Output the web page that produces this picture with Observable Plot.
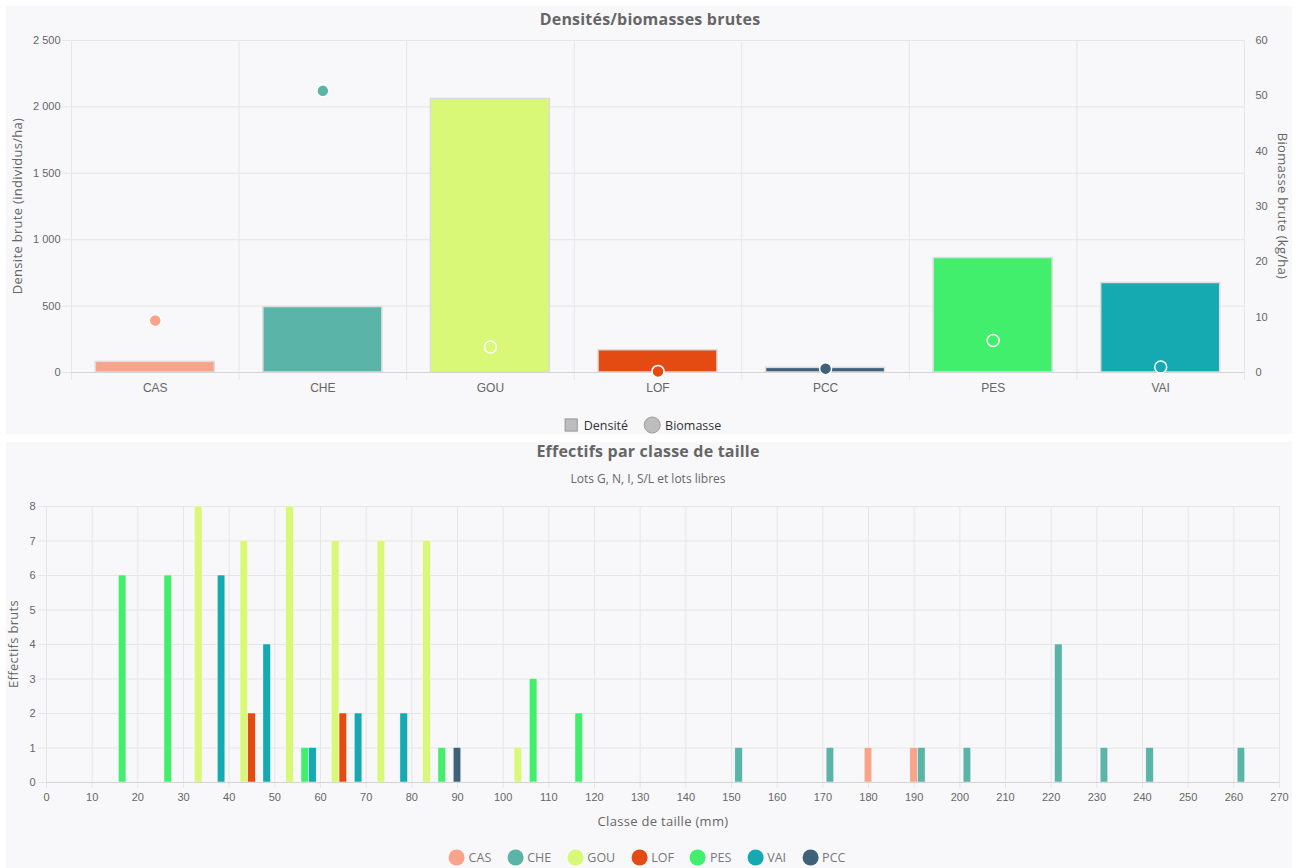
<!DOCTYPE html>
<html>
<head>
<meta charset="utf-8">
<script src="https://cdn.jsdelivr.net/npm/d3@7"></script>
<script src="https://cdn.jsdelivr.net/npm/@observablehq/plot@0.6"></script>
<style>
  body { margin: 0; background: #ffffff; font-family: "Open Sans", "Noto Sans", sans-serif; }
  #wrap { position: relative; width: 1298px; height: 868px; overflow: hidden; }
  .panel { position: absolute; left: 6px; width: 1286px; background: #f8f8fa; }
  .abs { position: absolute; white-space: nowrap; }
  .plot { position: absolute; left: 0; }
  .title { font-weight: 700; font-size: 16px; color: #666; transform: translate(-50%, -50%); letter-spacing: 0.2px; }
  .sub { font-size: 12px; color: #666; transform: translate(-50%, -50%); }
  .axtitle { font-size: 13px; color: #666; letter-spacing: 0.3px; }
  .legend { display: flex; align-items: center; transform: translate(-50%, -50%); font-size: 12.5px; }
  .legend .item { display: flex; align-items: center; margin: 0 8px; }
  .sq { width: 11px; height: 11px; background: #bdbdbd; border: 1px solid #9e9e9e; margin-right: 6px; }
  .ci { width: 16px; height: 16px; border-radius: 50%; margin-right: 4px; }
</style>
</head>
<body>
<div id="wrap">
  <div class="panel" style="top:6px;height:428px;"></div>
  <div class="panel" style="top:442px;height:426px;"></div>
</div>
<script>
// ---------- Top chart data ----------
const cats = ["CAS", "CHE", "GOU", "LOF", "PCC", "PES", "VAI"];
const densite = [80, 493, 2060, 168, 35, 862, 674];      // individus/ha
const biomasse = [9.4, 50.9, 4.6, 0.2, 0.7, 5.8, 1.0];   // kg/ha
const densiteTicks = [0, 500, 1000, 1500, 2000, 2500];
const biomasseTicks = [0, 10, 20, 30, 40, 50, 60];

// ---------- Species colours (legend order) ----------
const speciesOrder = ["CAS", "CHE", "GOU", "LOF", "PES", "VAI", "PCC"];
const speciesColors = ["#f7a48a", "#5ab5a8", "#d9f877", "#e34b12", "#41ef6c", "#15a9b1", "#40617a"];

// ---------- Bottom chart data (size class lower bound, mm) ----------
const casClasses = [180, 190];
const casCounts  = [1, 1];
const cheClasses = [150, 170, 190, 200, 220, 230, 240, 260];
const cheCounts  = [1, 1, 1, 1, 4, 1, 1, 1];
const gouClasses = [30, 40, 50, 60, 70, 80, 100];
const gouCounts  = [8, 7, 8, 7, 7, 7, 1];
const lofClasses = [40, 60];
const lofCounts  = [2, 2];
const pesClasses = [10, 20, 50, 80, 100, 110];
const pesCounts  = [6, 6, 1, 1, 3, 2];
const vaiClasses = [30, 40, 50, 60, 70];
const vaiCounts  = [6, 4, 1, 2, 2];
const pccClasses = [80];
const pccCounts  = [1];
const sizeTicks = d3.range(0, 271, 10);
const countTicks = d3.range(0, 9, 1);

const classesBySpecies = [casClasses, cheClasses, gouClasses, lofClasses, pesClasses, vaiClasses, pccClasses];
const countsBySpecies  = [casCounts, cheCounts, gouCounts, lofCounts, pesCounts, vaiCounts, pccCounts];

const wrap = document.getElementById("wrap");
const W = 1298;
const fmt = d => d3.format(",")(d).replace(/,/g, " ");
const colorScale = { type: "ordinal", domain: speciesOrder, range: speciesColors };
const tickFont = "'Liberation Sans', Arial, sans-serif";

function place(el, top) {
  el.classList.add("plot");
  el.style.top = top + "px";
  wrap.appendChild(el);
}
function addText(cls, text, x, y, extraStyle) {
  const d = document.createElement("div");
  d.className = "abs " + cls;
  d.textContent = text;
  d.style.left = x + "px";
  d.style.top = y + "px";
  if (extraStyle) Object.assign(d.style, extraStyle);
  wrap.appendChild(d);
  return d;
}

// ---------- Top chart ----------
const rows = cats.map((c, i) => ({ cat: c, i, d: densite[i], b: biomasse[i] }));

const p1 = Plot.plot({
  width: W, height: 400,
  marginTop: 40, marginBottom: 28, marginLeft: 71, marginRight: 54,
  style: { background: "transparent", fontFamily: tickFont, fontSize: "11px", color: "#666" },
  x: { type: "linear", domain: [0, cats.length] },
  y: { domain: [0, 2500] },
  color: colorScale,
  marks: [
    Plot.ruleY(densiteTicks, { stroke: "#e6e6e6" }),
    Plot.ruleX(d3.range(0, cats.length + 1), { stroke: "#e6e6e6" }),
    Plot.axisY({ ticks: densiteTicks, tickSize: 9, tickPadding: 2, stroke: "#e6e6e6", fill: "#666", tickFormat: fmt, label: null }),
    Plot.axisX({ ticks: d3.range(0, cats.length + 1), tickSize: 8, stroke: "#e6e6e6", tickFormat: () => "", label: null }),
    Plot.axisX({ ticks: d3.range(0.5, cats.length, 1), tickSize: 0, tickPadding: 11, fill: "#666", fontSize: 12,
                 tickFormat: d => cats[Math.floor(d)], label: null }),
    Plot.rect(rows, { x1: d => d.i + 0.145, x2: d => d.i + 0.855, y1: 0, y2: "d", fill: "cat", stroke: "#dcdcdc", strokeWidth: 1.5 }),
    Plot.ruleY([0], { stroke: "#d4d4d4" })
  ]
});
place(p1, 0);

const p2 = Plot.plot({
  width: W, height: 400,
  marginTop: 40, marginBottom: 28, marginLeft: 71, marginRight: 54,
  style: { background: "transparent", fontFamily: tickFont, fontSize: "11px", color: "#666" },
  x: { type: "linear", domain: [0, cats.length], axis: null },
  y: { domain: [0, 60] },
  color: colorScale,
  marks: [
    Plot.axisY({ anchor: "right", ticks: biomasseTicks, tickSize: 0, tickPadding: 11, fill: "#666", label: null }),
    Plot.dot(rows, { x: d => d.i + 0.5, y: "b", r: 6, fill: "cat", stroke: "white", strokeWidth: 1.5 })
  ]
});
place(p2, 0);

addText("title", "Densités/biomasses brutes", 650, 19);
addText("axtitle", "Densite brute (individus/ha)", 17, 206, { transform: "translate(-50%,-50%) rotate(-90deg)" });
addText("axtitle", "Biomasse brute (kg/ha)", 1283, 206, { transform: "translate(-50%,-50%) rotate(90deg)" });

const lg1 = document.createElement("div");
lg1.className = "abs legend";
lg1.style.left = "643px"; lg1.style.top = "425px"; lg1.style.color = "#333";
lg1.innerHTML = '<div class="item"><div class="sq"></div>Densité</div>' +
                '<div class="item"><div class="ci" style="background:#bdbdbd;border:1px solid #9e9e9e;width:15px;height:15px"></div>Biomasse</div>';
wrap.appendChild(lg1);

// ---------- Bottom chart ----------
const bottomRows = [];
speciesOrder.forEach((sp, si) => {
  classesBySpecies[si].forEach((c, j) => {
    bottomRows.push({ sp, si, cls: c, n: countsBySpecies[si][j] });
  });
});
const slot = 10 / 6;       // grouped-column slot width inside a 10 mm class
const half = slot / 2;

const p3 = Plot.plot({
  width: W, height: 350,
  marginTop: 16, marginBottom: 58, marginLeft: 46, marginRight: 19,
  style: { background: "transparent", fontFamily: tickFont, fontSize: "11px", color: "#666" },
  x: { type: "linear", domain: [0, 270] },
  y: { domain: [0, 8] },
  color: colorScale,
  marks: [
    Plot.ruleY(countTicks, { stroke: "#e6e6e6" }),
    Plot.ruleX(sizeTicks, { stroke: "#e6e6e6" }),
    Plot.axisY({ ticks: countTicks, tickSize: 8, tickPadding: 3, stroke: "#e6e6e6", fill: "#666", label: null }),
    Plot.axisX({ ticks: sizeTicks, tickSize: 6, tickPadding: 5, stroke: "#e6e6e6", fill: "#666", label: null }),
    Plot.rect(bottomRows, {
      x1: d => d.cls + d.si * slot - half,
      x2: d => d.cls + d.si * slot + half,
      y1: 0, y2: "n", fill: "sp", stroke: "#f8f8fa", strokeWidth: 0.5
    }),
    Plot.ruleY([0], { stroke: "#d4d4d4" })
  ]
});
place(p3, 490);

addText("title", "Effectifs par classe de taille", 648, 451);
addText("sub", "Lots G, N, I, S/L et lots libres", 648, 478);
addText("axtitle", "Effectifs bruts", 13, 644, { transform: "translate(-50%,-50%) rotate(-90deg)" });
addText("axtitle", "Classe de taille (mm)", 663, 821, { transform: "translate(-50%,-50%)" });

const lg2 = document.createElement("div");
lg2.className = "abs legend";
lg2.style.left = "647px"; lg2.style.top = "857px"; lg2.style.color = "#777";
lg2.innerHTML = speciesOrder.map((s, i) =>
  `<div class="item" style="margin:0 8px"><div class="ci" style="background:${speciesColors[i]}"></div>${s}</div>`).join("");
wrap.appendChild(lg2);
</script>
</body>
</html>
